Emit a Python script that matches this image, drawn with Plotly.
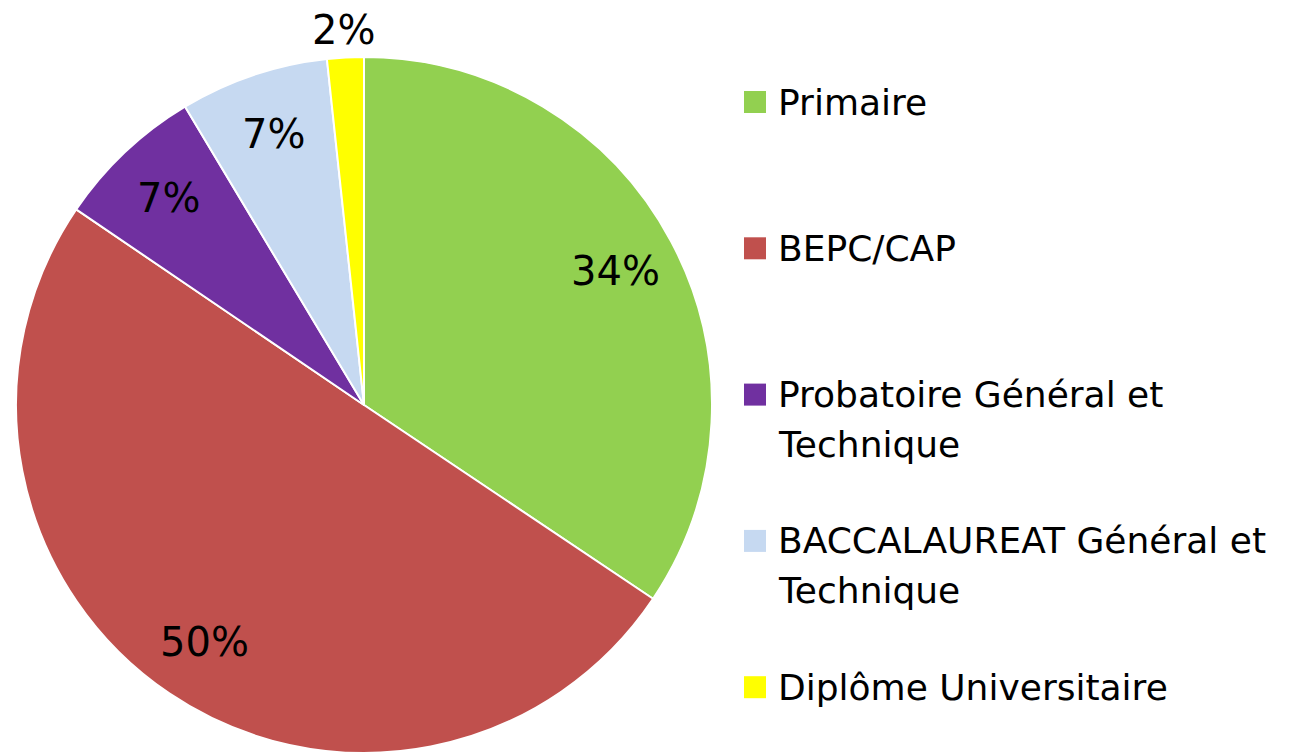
import math
import plotly.graph_objects as go

categories = ["Primaire", "BEPC/CAP", "Probatoire Général et Technique",
              "BACCALAUREAT Général et Technique", "Diplôme Universitaire"]
legend_lines = [["Primaire"], ["BEPC/CAP"], ["Probatoire Général et", "Technique"],
                ["BACCALAUREAT Général et", "Technique"], ["Diplôme Universitaire"]]
values = [34.4, 50.1, 6.9, 6.9, 1.7]
colors = ["#92D050", "#C0504D", "#7030A0", "#C6D9F1", "#FFFF00"]

OFF = 8  # page body margin
W, H = 1285, 748
CX, CY, R = 364 - OFF, 405 - OFF, 348
FONT = "DejaVu Sans"

fig = go.Figure(go.Pie(
    labels=categories, values=values, sort=False, direction="clockwise",
    rotation=0, marker=dict(colors=colors, line=dict(color="white", width=2)),
    textinfo="none", hoverinfo="label+percent", showlegend=False,
    domain=dict(x=[(CX - R) / W, (CX + R) / W], y=[1 - (CY + R) / H, 1 - (CY - R) / H]),
))

total = sum(values)
annotations = []
shapes = []
cum = 0.0
for v in values:
    frac = v / total
    mid = (cum + frac / 2) * 2 * math.pi
    cum += frac
    rl = 0.82 if frac > 0.03 else 1.08
    px = CX + rl * R * math.sin(mid)
    py = CY - rl * R * math.cos(mid)
    annotations.append(dict(
        x=px / W, y=1 - py / H, xref="paper", yref="paper",
        text=f"{frac:.0%}", showarrow=False, xanchor="center", yanchor="middle",
        font=dict(family=FONT, size=40, color="black")))

# legend (manual)
LX = 744 - OFF
LY0, LSTEP, LINE = 102 - OFF, 146.3, 50
for i, (lines, col) in enumerate(zip(legend_lines, colors)):
    yc = LY0 + i * LSTEP
    shapes.append(dict(type="rect", xref="paper", yref="paper",
                       x0=LX / W, x1=(LX + 22) / W, y0=1 - (yc - 11) / H, y1=1 - (yc + 11) / H,
                       fillcolor=col, line=dict(width=0)))
    for j, line in enumerate(lines):
        annotations.append(dict(
            x=(LX + 32) / W, y=1 - (yc + j * LINE) / H, xref="paper", yref="paper",
            text=line, showarrow=False, xanchor="left", yanchor="middle", align="left",
            font=dict(family=FONT, size=36, color="black")))

fig.update_layout(width=W, height=H, margin=dict(l=0, r=0, t=0, b=0),
                  paper_bgcolor="white", plot_bgcolor="white",
                  annotations=annotations, shapes=shapes)
fig.write_html("out.html")
